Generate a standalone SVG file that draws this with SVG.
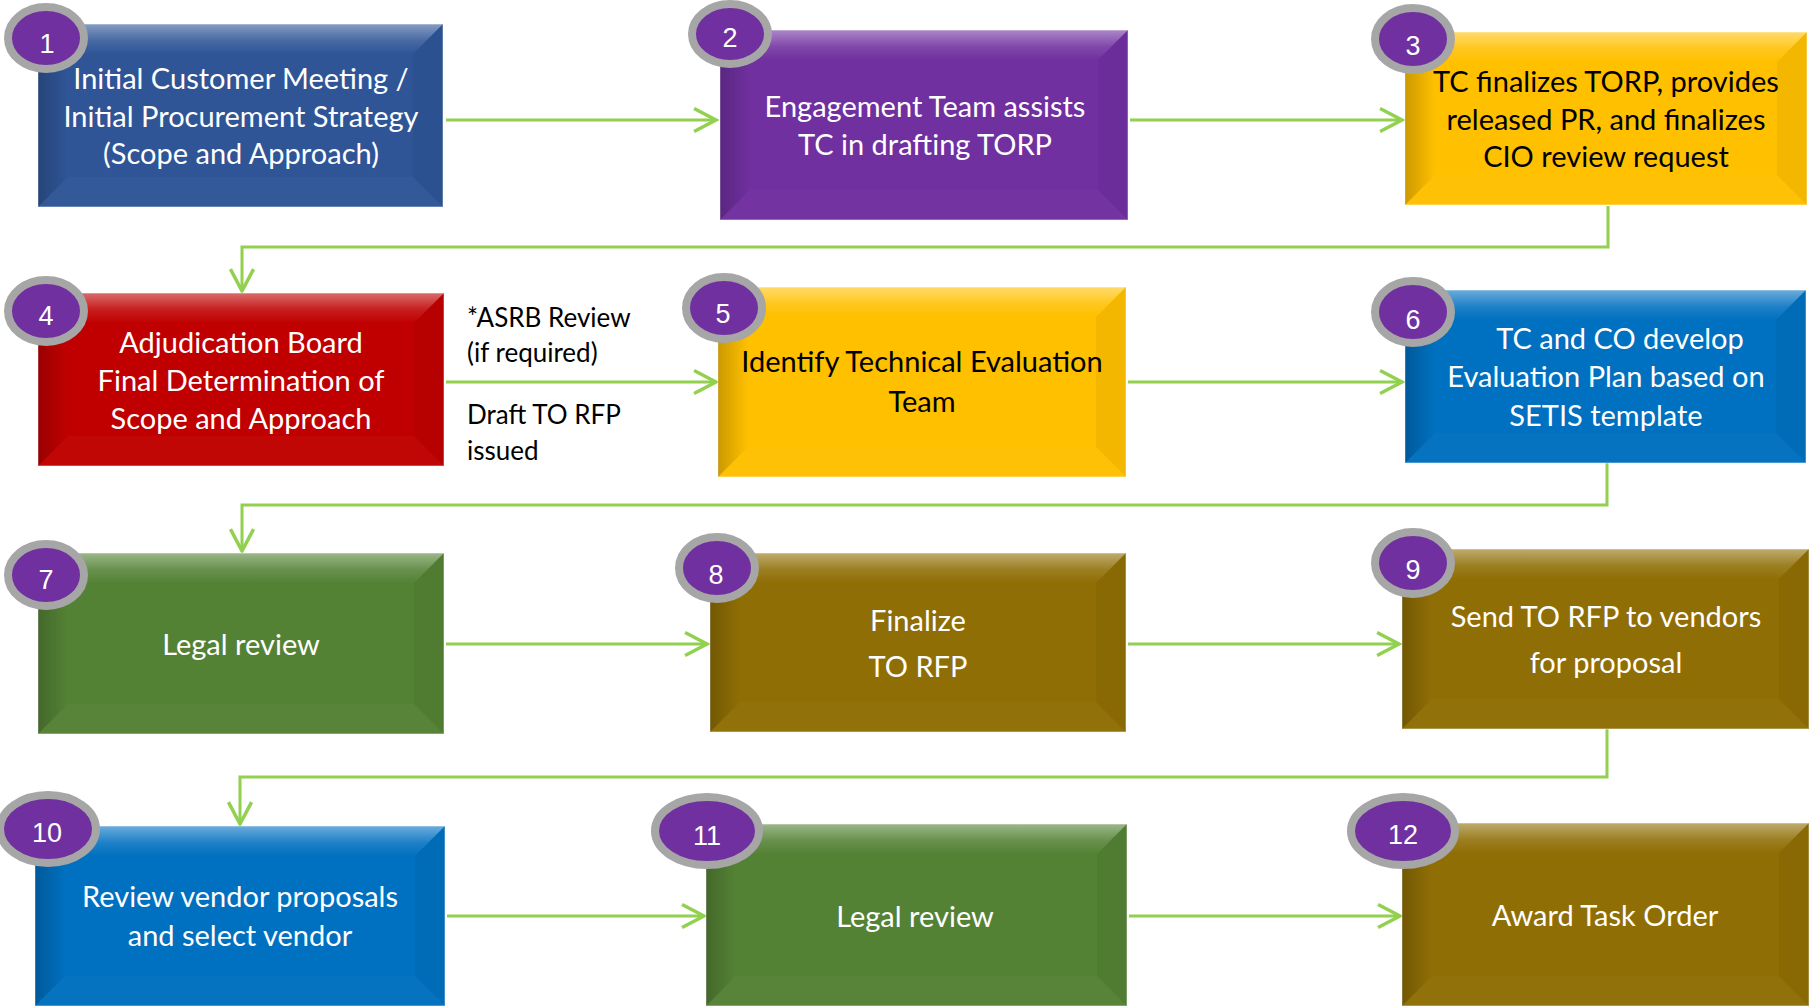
<svg xmlns="http://www.w3.org/2000/svg" width="1810" height="1007" viewBox="0 0 1810 1007">
<defs>
<linearGradient id="gTop" x1="0" y1="0" x2="0" y2="1">
<stop offset="0" stop-color="#fff" stop-opacity="0.42"/>
<stop offset="0.55" stop-color="#fff" stop-opacity="0.12"/>
<stop offset="1" stop-color="#fff" stop-opacity="0"/>
</linearGradient>
<linearGradient id="gLeft" x1="0" y1="0" x2="1" y2="0">
<stop offset="0" stop-color="#000" stop-opacity="0.2"/>
<stop offset="1" stop-color="#000" stop-opacity="0"/>
</linearGradient>
<marker id="arr" markerUnits="userSpaceOnUse" markerWidth="30" markerHeight="30" refX="0" refY="0" viewBox="-22 -13 25 26" orient="auto" overflow="visible">
<path d="M-19,-10 L0,0 L-19,10" fill="none" stroke="#92D050" stroke-width="3"/>
</marker>
</defs>
<style>
.base{stroke:#fff;stroke-opacity:0.35;stroke-width:1.5}
.top{fill:url(#gTop)}
.left{fill:url(#gLeft)}
.right{fill:#000;fill-opacity:0.045}
.bot{fill:#fff;fill-opacity:0.025}
.t{font-family:Lato,"Open Sans",sans-serif;font-size:29px;fill:#fff;text-anchor:middle}
.tk{fill:#000}
.lbl{font-family:Lato,"Open Sans",sans-serif;font-size:26px;fill:#000}
.ring{fill:#7030A0;stroke:#A6A6A6;stroke-width:8}
.num{font-family:"Liberation Sans",Arial,sans-serif;font-size:27px;fill:#fff;text-anchor:middle}
.c{fill:none;stroke:#92D050;stroke-width:3}
</style>
<rect width="1810" height="1007" fill="#fff"/>

<g id="connectors">
<path class="c" d="M446,120 L716,120" marker-end="url(#arr)"/>
<path class="c" d="M1130,120 L1402,120" marker-end="url(#arr)"/>
<path class="c" d="M1608,206 L1608,247 L242,247 L242,291" marker-end="url(#arr)"/>
<path class="c" d="M446,382 L716,382" marker-end="url(#arr)"/>
<path class="c" d="M1128,382 L1402,382" marker-end="url(#arr)"/>
<path class="c" d="M1607,463 L1607,505 L242,505 L242,551" marker-end="url(#arr)"/>
<path class="c" d="M446,644 L707,644" marker-end="url(#arr)"/>
<path class="c" d="M1128,644 L1399,644" marker-end="url(#arr)"/>
<path class="c" d="M1607,729 L1607,777 L240,777 L240,824" marker-end="url(#arr)"/>
<path class="c" d="M447,916 L704,916" marker-end="url(#arr)"/>
<path class="c" d="M1129,916 L1400,916" marker-end="url(#arr)"/>
</g>

<g id="node1">
<rect class="base" x="38" y="24" width="405" height="183" fill="#2F5597"/>
<polygon class="top" points="38,24 443,24 413,54 68,54"/>
<polygon class="left" points="38,24 38,207 68,177 68,54"/>
<polygon class="right" points="443,24 443,207 413,177 413,54"/>
<polygon class="bot" points="38,207 443,207 413,177 68,177"/>
<text class="t" x="241" y="89">Initial Customer Meeting /</text>
<text class="t" x="241" y="127">Initial Procurement Strategy</text>
<text class="t" x="241" y="164">(Scope and Approach)</text>
<ellipse class="ring" cx="46" cy="38" rx="38" ry="31"/>
<text class="num" x="47" y="53">1</text>
</g>

<g id="node2">
<rect class="base" x="720" y="30" width="408" height="190" fill="#7030A0"/>
<polygon class="top" points="720,30 1128,30 1098,60 750,60"/>
<polygon class="left" points="720,30 720,220 750,190 750,60"/>
<polygon class="right" points="1128,30 1128,220 1098,190 1098,60"/>
<polygon class="bot" points="720,220 1128,220 1098,190 750,190"/>
<text class="t" x="925" y="117">Engagement Team assists</text>
<text class="t" x="925" y="155">TC in drafting TORP</text>
<ellipse class="ring" cx="730" cy="34" rx="38" ry="30"/>
<text class="num" x="730" y="47">2</text>
</g>

<g id="node3">
<rect class="base" x="1405" y="32" width="402" height="173" fill="#FFC000"/>
<polygon class="top" points="1405,32 1807,32 1777,62 1435,62"/>
<polygon class="left" points="1405,32 1405,205 1435,175 1435,62"/>
<polygon class="right" points="1807,32 1807,205 1777,175 1777,62"/>
<polygon class="bot" points="1405,205 1807,205 1777,175 1435,175"/>
<text class="t tk" x="1606" y="92">TC finalizes TORP, provides</text>
<text class="t tk" x="1606" y="130">released PR, and finalizes</text>
<text class="t tk" x="1606" y="167">CIO review request</text>
<ellipse class="ring" cx="1413" cy="39" rx="38" ry="31"/>
<text class="num" x="1413" y="55">3</text>
</g>

<g id="node4">
<rect class="base" x="38" y="293" width="406" height="173" fill="#C00000"/>
<polygon class="top" points="38,293 444,293 414,323 68,323"/>
<polygon class="left" points="38,293 38,466 68,436 68,323"/>
<polygon class="right" points="444,293 444,466 414,436 414,323"/>
<polygon class="bot" points="38,466 444,466 414,436 68,436"/>
<text class="t" x="241" y="353">Adjudication Board</text>
<text class="t" x="241" y="391">Final Determination of</text>
<text class="t" x="241" y="429">Scope and Approach</text>
<ellipse class="ring" cx="46" cy="311" rx="38" ry="31"/>
<text class="num" x="46" y="325">4</text>
</g>

<g id="label45">
<text class="lbl" x="467" y="327">*ASRB Review</text>
<text class="lbl" x="467" y="362">(if required)</text>
<text class="lbl" x="467" y="424">Draft TO RFP</text>
<text class="lbl" x="467" y="460">issued</text>
</g>

<g id="node5">
<rect class="base" x="718" y="287" width="408" height="190" fill="#FFC000"/>
<polygon class="top" points="718,287 1126,287 1096,317 748,317"/>
<polygon class="left" points="718,287 718,477 748,447 748,317"/>
<polygon class="right" points="1126,287 1126,477 1096,447 1096,317"/>
<polygon class="bot" points="718,477 1126,477 1096,447 748,447"/>
<text class="t tk" x="922" y="372">Identify Technical Evaluation</text>
<text class="t tk" x="922" y="412">Team</text>
<ellipse class="ring" cx="724" cy="308" rx="38" ry="31"/>
<text class="num" x="723" y="323">5</text>
</g>

<g id="node6">
<rect class="base" x="1405" y="290" width="401" height="173" fill="#0070C0"/>
<polygon class="top" points="1405,290 1806,290 1776,320 1435,320"/>
<polygon class="left" points="1405,290 1405,463 1435,433 1435,320"/>
<polygon class="right" points="1806,290 1806,463 1776,433 1776,320"/>
<polygon class="bot" points="1405,463 1806,463 1776,433 1435,433"/>
<text class="t" x="1620" y="349">TC and CO develop</text>
<text class="t" x="1606" y="387">Evaluation Plan based on</text>
<text class="t" x="1606" y="426">SETIS template</text>
<ellipse class="ring" cx="1413" cy="312" rx="38" ry="31"/>
<text class="num" x="1413" y="329">6</text>
</g>

<g id="node7">
<rect class="base" x="38" y="553" width="406" height="181" fill="#548235"/>
<polygon class="top" points="38,553 444,553 414,583 68,583"/>
<polygon class="left" points="38,553 38,734 68,704 68,583"/>
<polygon class="right" points="444,553 444,734 414,704 414,583"/>
<polygon class="bot" points="38,734 444,734 414,704 68,704"/>
<text class="t" x="241" y="655">Legal review</text>
<ellipse class="ring" cx="46" cy="575" rx="38" ry="31"/>
<text class="num" x="46" y="589">7</text>
</g>

<g id="node8">
<rect class="base" x="710" y="553" width="416" height="179" fill="#8F6E05"/>
<polygon class="top" points="710,553 1126,553 1096,583 740,583"/>
<polygon class="left" points="710,553 710,732 740,702 740,583"/>
<polygon class="right" points="1126,553 1126,732 1096,702 1096,583"/>
<polygon class="bot" points="710,732 1126,732 1096,702 740,702"/>
<text class="t" x="918" y="631">Finalize</text>
<text class="t" x="918" y="677">TO RFP</text>
<ellipse class="ring" cx="717" cy="568" rx="38" ry="31"/>
<text class="num" x="716" y="584">8</text>
</g>

<g id="node9">
<rect class="base" x="1402" y="549" width="407" height="180" fill="#8F6E05"/>
<polygon class="top" points="1402,549 1809,549 1779,579 1432,579"/>
<polygon class="left" points="1402,549 1402,729 1432,699 1432,579"/>
<polygon class="right" points="1809,549 1809,729 1779,699 1779,579"/>
<polygon class="bot" points="1402,729 1809,729 1779,699 1432,699"/>
<text class="t" x="1606" y="627">Send TO RFP to vendors</text>
<text class="t" x="1606" y="673">for proposal</text>
<ellipse class="ring" cx="1413" cy="563" rx="38" ry="31"/>
<text class="num" x="1413" y="579">9</text>
</g>

<g id="node10">
<rect class="base" x="35" y="826" width="410" height="180" fill="#0070C0"/>
<polygon class="top" points="35,826 445,826 415,856 65,856"/>
<polygon class="left" points="35,826 35,1006 65,976 65,856"/>
<polygon class="right" points="445,826 445,1006 415,976 415,856"/>
<polygon class="bot" points="35,1006 445,1006 415,976 65,976"/>
<text class="t" x="240" y="907">Review vendor proposals</text>
<text class="t" x="240" y="946">and select vendor</text>
<ellipse class="ring" cx="48" cy="829" rx="48" ry="34"/>
<text class="num" x="47" y="842">10</text>
</g>

<g id="node11">
<rect class="base" x="706" y="824" width="421" height="182" fill="#548235"/>
<polygon class="top" points="706,824 1127,824 1097,854 736,854"/>
<polygon class="left" points="706,824 706,1006 736,976 736,854"/>
<polygon class="right" points="1127,824 1127,1006 1097,976 1097,854"/>
<polygon class="bot" points="706,1006 1127,1006 1097,976 736,976"/>
<text class="t" x="915" y="927">Legal review</text>
<ellipse class="ring" cx="707" cy="831" rx="52" ry="34"/>
<text class="num" x="707" y="845">11</text>
</g>

<g id="node12">
<rect class="base" x="1402" y="823" width="407" height="183" fill="#8F6E05"/>
<polygon class="top" points="1402,823 1809,823 1779,853 1432,853"/>
<polygon class="left" points="1402,823 1402,1006 1432,976 1432,853"/>
<polygon class="right" points="1809,823 1809,1006 1779,976 1779,853"/>
<polygon class="bot" points="1402,1006 1809,1006 1779,976 1432,976"/>
<text class="t" x="1605" y="926">Award Task Order</text>
<ellipse class="ring" cx="1403" cy="831" rx="52" ry="34"/>
<text class="num" x="1403" y="844">12</text>
</g>
</svg>
